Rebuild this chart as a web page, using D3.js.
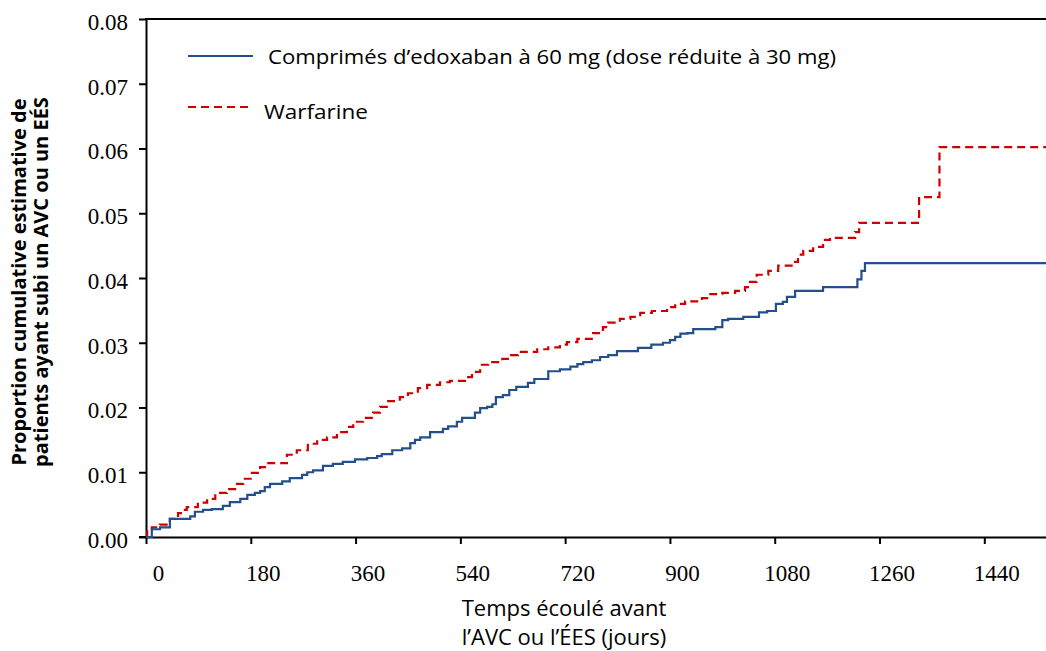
<!DOCTYPE html>
<html>
<head>
<meta charset="utf-8">
<script src="https://cdn.jsdelivr.net/npm/d3@7"></script>
<style>
  html, body { margin: 0; padding: 0; background: #fff; }
  svg { display: block; }
</style>
</head>
<body>
<svg id="chart" width="1046" height="651"></svg>
<script>
// ---- Data ----
const xTicks = [0, 180, 360, 540, 720, 900, 1080, 1260, 1440];
const yTicks = [0, 0.01, 0.02, 0.03, 0.04, 0.05, 0.06, 0.07, 0.08];
const seriesNames = ["Comprimés d’edoxaban à 60 mg (dose réduite à 30 mg)", "Warfarine"];
const maxDay = 1546;

// Edoxaban step points: [day, cumulative proportion]
const edoxabanDays = [0,10,24,41,76,84,98,113,132,144,162,174,187,196,204,213,234,247,268,277,287,304,321,338,359,380,397,405,423,440,454,462,471,488,510,519,534,543,565,574,586,595,601,613,624,636,656,667,691,711,729,741,751,766,780,794,809,845,868,888,900,909,918,930,940,978,990,1000,1026,1053,1067,1082,1094,1101,1115,1163,1222,1229,1235];
const edoxabanVals = [0,0.0012,0.0015,0.0028,0.0032,0.0039,0.0042,0.0043,0.0048,0.0054,0.0059,0.0065,0.0068,0.0071,0.0077,0.0082,0.0086,0.0091,0.0096,0.0100,0.0103,0.0110,0.0113,0.0116,0.0120,0.0122,0.0125,0.0128,0.0134,0.0137,0.0145,0.0150,0.0154,0.0162,0.0167,0.0171,0.0178,0.0184,0.0192,0.0199,0.0201,0.0205,0.0216,0.0219,0.0227,0.0232,0.0238,0.0244,0.0256,0.0259,0.0263,0.0267,0.0270,0.0273,0.0278,0.0281,0.0287,0.0292,0.0297,0.0300,0.0304,0.0309,0.0314,0.0315,0.0321,0.0324,0.0335,0.0337,0.0340,0.0347,0.0349,0.0360,0.0363,0.0371,0.0380,0.0386,0.0398,0.0411,0.0423];

// Warfarin step points
const warfarinDays = [0,2,10,24,41,55,62,70,89,105,119,139,153,167,182,196,208,242,259,278,294,311,328,345,356,373,390,402,416,436,450,467,483,505,522,548,560,574,588,612,625,639,672,691,711,723,741,768,785,794,814,832,849,869,895,909,926,955,964,990,1012,1029,1034,1049,1069,1086,1115,1120,1129,1146,1163,1175,1218,1225,1328,1363];
const warfarinVals = [0,0.0011,0.0015,0.0019,0.0028,0.0037,0.0042,0.0046,0.0053,0.0059,0.0068,0.0074,0.0082,0.0090,0.0099,0.0108,0.0114,0.0127,0.0134,0.0144,0.0150,0.0154,0.0162,0.0170,0.0178,0.0184,0.0192,0.0201,0.0210,0.0216,0.0222,0.0230,0.0235,0.0239,0.0241,0.0247,0.0255,0.0266,0.0270,0.0275,0.0281,0.0286,0.0290,0.0293,0.0297,0.0301,0.0306,0.0315,0.0324,0.0331,0.0337,0.0340,0.0346,0.0349,0.0355,0.0360,0.0364,0.0369,0.0375,0.0377,0.0380,0.0386,0.0394,0.0405,0.0411,0.0419,0.0425,0.0436,0.0442,0.0448,0.0459,0.0462,0.0471,0.0485,0.0525,0.0602];

// ---- Layout ----
const svg = d3.select("#chart");
const mLeft = 146, mRight = 1046, mTop = 19, mBottom = 537;
const x = d3.scaleLinear().domain([0, maxDay]).range([mLeft, mRight]);
const y = d3.scaleLinear().domain([0, 0.08]).range([mBottom, mTop]);

const serif = "'Liberation Serif', 'Times New Roman', serif";
const sans = "'Open Sans', 'Noto Sans', sans-serif";

// Axes
const yAxis = d3.axisLeft(y).tickValues(yTicks).tickFormat(d3.format(".2f")).tickSize(7).tickSizeOuter(0).tickPadding(11);
const gy = svg.append("g").attr("transform", `translate(${mLeft},0)`).call(yAxis);
gy.select(".domain").attr("stroke", "#000").attr("stroke-width", 2);
gy.selectAll(".tick line").attr("stroke", "#000").attr("stroke-width", 2);
gy.selectAll(".tick text").attr("font-family", serif).attr("font-size", 23).attr("fill", "#000").attr("dy", "0.45em");

const xAxis = d3.axisBottom(x).tickValues(xTicks).tickFormat(d3.format("d")).tickSize(7).tickSizeOuter(0).tickPadding(21);
const gx = svg.append("g").attr("transform", `translate(0,${mBottom})`).call(xAxis);
gx.select(".domain").attr("stroke", "#000").attr("stroke-width", 2);
gx.selectAll(".tick line").attr("stroke", "#000").attr("stroke-width", 2);
gx.selectAll(".tick text").attr("font-family", serif).attr("font-size", 23).attr("fill", "#000").attr("dx", 12);

// top spine
svg.append("line").attr("x1", mLeft - 1).attr("x2", mRight).attr("y1", y(0.08)).attr("y2", y(0.08))
  .attr("stroke", "#000").attr("stroke-width", 2);
// extend x axis slightly left
svg.append("line").attr("x1", mLeft - 7).attr("x2", mLeft).attr("y1", mBottom).attr("y2", mBottom)
  .attr("stroke", "#000").attr("stroke-width", 2);

// ---- Lines ----
const line = d3.line().x(d => x(d[0])).y(d => y(d[1])).curve(d3.curveStepAfter);
function build(days, vals) {
  const pts = days.map((d, i) => [d, vals[i]]);
  pts.push([maxDay, vals[vals.length - 1]]);
  return pts;
}
svg.append("path").datum(build(warfarinDays, warfarinVals))
  .attr("d", line).attr("fill", "none").attr("stroke", "#cc0000").attr("stroke-width", 2.2)
  .attr("stroke-dasharray", "8,5");
svg.append("path").datum(build(edoxabanDays, edoxabanVals))
  .attr("d", line).attr("fill", "none").attr("stroke", "#234f8c").attr("stroke-width", 2.2);

// ---- Legend ----
svg.append("line").attr("x1", 188).attr("x2", 253).attr("y1", 56).attr("y2", 56)
  .attr("stroke", "#234f8c").attr("stroke-width", 1.8);
svg.append("text").attr("x", 268).attr("y", 64).attr("font-family", sans).attr("font-size", 20)
  .attr("textLength", 568).attr("lengthAdjust", "spacingAndGlyphs")
  .text(seriesNames[0]);
svg.append("line").attr("x1", 188).attr("x2", 253).attr("y1", 107).attr("y2", 107)
  .attr("stroke", "#cc0000").attr("stroke-width", 1.8).attr("stroke-dasharray", "8,5");
svg.append("text").attr("x", 264).attr("y", 119).attr("font-family", sans).attr("font-size", 20)
  .attr("textLength", 104).attr("lengthAdjust", "spacingAndGlyphs")
  .text(seriesNames[1]);

// ---- Axis titles ----
const yt = svg.append("g").attr("transform", "translate(0,282) rotate(-90)");
yt.append("text").attr("x", 0).attr("y", 26).attr("text-anchor", "middle")
  .attr("font-family", sans).attr("font-size", 20).attr("font-weight", "bold")
  .text("Proportion cumulative estimative de");
yt.append("text").attr("x", 0).attr("y", 48).attr("text-anchor", "middle")
  .attr("font-family", sans).attr("font-size", 20).attr("font-weight", "bold")
  .text("patients ayant subi un AVC ou un EÉS");

svg.append("text").attr("x", 564).attr("y", 616).attr("text-anchor", "middle")
  .attr("font-family", sans).attr("font-size", 22).text("Temps écoulé avant");
svg.append("text").attr("x", 564).attr("y", 645).attr("text-anchor", "middle")
  .attr("font-family", sans).attr("font-size", 22).text("l’AVC ou l’ÉES (jours)");
</script>
</body>
</html>
